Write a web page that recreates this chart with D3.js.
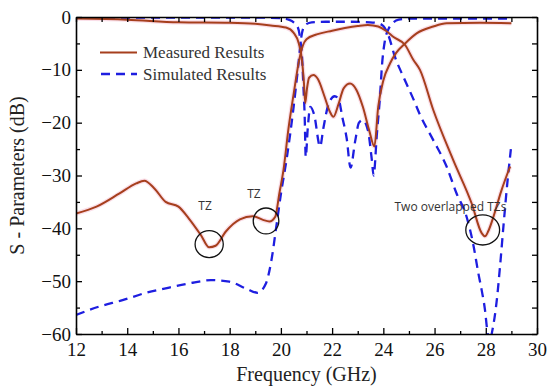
<!DOCTYPE html>
<html><head><meta charset="utf-8">
<script src="https://cdn.jsdelivr.net/npm/d3@7/dist/d3.min.js"></script>
<style>
body{margin:0;background:#fff;}
svg{display:block;}
</style></head>
<body><svg id="chart" width="550" height="391"></svg>
<script>
// ---- Data (frequency GHz, dB) ----
const measS21F = [12,12.8,13.7,14.35,14.67,15.05,15.5,16.0,16.4,16.88,17.2,17.45,17.85,18.4,18.9,19.3,19.55,19.78,19.94,20.1,20.3,20.5,20.7,20.85,21.0,21.4,22.0,22.5,23.0,23.4,23.8,24.1,24.4,24.85,25.17,25.43,25.95,26.73,27.45,27.84,27.97,28.1,28.3,28.6,28.95];
const measS21 = [-37.2,-35.9,-33.4,-31.5,-31.0,-32.4,-35.0,-35.9,-38.1,-41.3,-43.6,-43.3,-40.6,-38.3,-37.7,-38.4,-38.7,-37.8,-33.4,-29,-21,-14.5,-8.5,-5.5,-4.2,-3.3,-2.6,-2.1,-1.7,-1.5,-1.8,-2.6,-3.8,-5.3,-8.1,-10.0,-17.6,-27.1,-35.3,-40.9,-41.5,-40.5,-37.8,-33.0,-28.3];

const measS11F = [12,14,16,18,19,19.6,20.2,20.5,20.7,20.82,20.9,20.95,21.02,21.1,21.27,21.45,21.7,21.9,22.05,22.25,22.45,22.7,22.95,23.2,23.45,23.65,23.8,24.0,24.26,24.5,24.85,25.3,25.95,26.47,27.77,29.0];
const measS11 = [-0.3,-0.5,-1.0,-1.1,-1.3,-1.6,-2.0,-3.0,-5.0,-8.0,-12.5,-16.3,-13.5,-11.5,-11.0,-11.8,-15.0,-17.8,-18.9,-16.5,-13.5,-12.6,-13.8,-17.0,-21.5,-24.5,-17.0,-12.0,-8.8,-6.8,-5.0,-3.1,-1.8,-1.2,-1.1,-1.2];

const simS21F = [12,12.91,13.82,14.73,15.64,16.56,17.27,17.99,18.64,19.09,19.42,19.61,19.84,20.0,20.23,20.49,20.68,20.81,20.95,21.2,21.75,22.7,23.48,23.8,24.0,24.2,24.45,24.78,25.17,25.43,25.95,26.47,26.86,27.25,27.51,27.71,27.84,27.97,28.05,28.15,28.25,28.43,28.56,28.7,28.85,28.98];
const simS21 = [-56.4,-54.8,-53.6,-52.2,-51.2,-50.3,-49.8,-50.1,-51.4,-52.2,-50.4,-46.6,-39,-33.5,-26.7,-17.3,-9.1,-3.4,-1.5,-1.0,-0.9,-0.9,-1.0,-1.2,-1.7,-3.5,-7.5,-11.3,-15.5,-18.5,-23.3,-28.3,-33.4,-37.8,-43,-48.5,-51.7,-55.5,-59,-61.5,-59.5,-53.6,-47,-39,-31,-25];

const simS11F = [12,16,19,20,20.3,20.5,20.65,20.75,20.83,20.88,20.93,20.97,21.05,21.15,21.3,21.53,21.66,21.86,22.1,22.25,22.4,22.57,22.72,22.9,23.05,23.2,23.4,23.55,23.62,23.75,23.87,23.95,24.06,24.2,24.4,24.6,25,27,29];
const simS11 = [-0.1,-0.1,-0.1,-0.2,-0.5,-1.0,-1.8,-4,-8,-13,-19,-26.5,-21,-17,-18.5,-24.5,-21,-16.5,-15,-15.5,-19,-23,-28.5,-23.5,-20,-19.5,-21.5,-27,-30,-22,-15,-9,-4.5,-2.3,-1.0,-0.5,-0.3,-0.3,-0.3];

const xTicks = [12,14,16,18,20,22,24,26,28,30];
const yTicks = [-60,-50,-40,-30,-20,-10,0];
const legendLabels = ["Measured Results","Simulated Results"];
const annotations = [
  {text:"TZ", f:17.04, db:-36.6, cf:17.2, cdb:-43.0, rf:0.55, rdb:2.55},
  {text:"TZ", f:18.95, db:-34.3, cf:19.42, cdb:-38.6, rf:0.5, rdb:2.45},
  {text:"Two overlapped TZs", f:26.62, db:-36.8, cf:27.88, cdb:-40.3, rf:0.66, rdb:2.85}
];

// ---- Layout ----
const W=550,H=391, m={l:76,t:17,r:13,b:57};
const svg=d3.select("#chart");
const x=d3.scaleLinear().domain([12,30]).range([m.l,W-m.r]);
const y=d3.scaleLinear().domain([-60,0]).range([H-m.b,m.t]);
const brown="#a63f1d", blue="#1e1ee0";

svg.append("defs").append("clipPath").attr("id","clip")
  .append("rect").attr("x",m.l).attr("y",m.t).attr("width",x(30)-m.l).attr("height",y(-60)-m.t);

const line=d3.line().curve(d3.curveMonotoneX);
function pts(F,V){return F.map((f,i)=>[x(f),y(V[i])]);}

const g=svg.append("g").attr("clip-path","url(#clip)");
[[measS21F,measS21],[measS11F,measS11]].forEach(([F,V])=>{
  g.append("path").attr("d",line(pts(F,V))).attr("fill","none").attr("stroke","#f7c8d8").attr("stroke-width",4.5).attr("opacity",0.6);
});
[[simS21F,simS21],[simS11F,simS11]].forEach(([F,V])=>{
  g.append("path").attr("d",line(pts(F,V))).attr("fill","none").attr("stroke",blue).attr("stroke-width",2.3).attr("stroke-dasharray","9,6");
});
[[measS21F,measS21],[measS11F,measS11]].forEach(([F,V])=>{
  g.append("path").attr("d",line(pts(F,V))).attr("fill","none").attr("stroke",brown).attr("stroke-width",2);
});

// ---- Axes ----
const font='"Liberation Serif","Times New Roman",serif';
const minorX=d3.range(12,30.01,1), minorY=d3.range(-60,0.01,5);
function styleAxis(sel){sel.attr("font-family",null).attr("font-size",null);
  sel.selectAll("path.domain").attr("stroke","#000").attr("stroke-width",1.6);
  sel.selectAll(".tick line").attr("stroke","#000").attr("stroke-width",1.3);
  sel.selectAll("text").style("font-family",font).style("font-size","19px").attr("fill","#111");}

const xb=svg.append("g").attr("transform",`translate(0,${y(-60)})`)
  .call(d3.axisBottom(x).tickValues(xTicks).tickSizeInner(-6).tickSizeOuter(0).tickPadding(9).tickFormat(d3.format("d")));
styleAxis(xb);
svg.append("g").attr("transform",`translate(0,${y(-60)})`)
  .call(d3.axisBottom(x).tickValues(minorX.filter(v=>v%2)).tickSize(-3).tickFormat("")).call(s=>{s.select(".domain").remove();styleAxis(s);});
const xt=svg.append("g").attr("transform",`translate(0,${y(0)})`)
  .call(d3.axisTop(x).tickValues(minorX).tickSizeInner(-5).tickSizeOuter(0).tickFormat(""));
styleAxis(xt);
const yl=svg.append("g").attr("transform",`translate(${x(12)},0)`)
  .call(d3.axisLeft(y).tickValues(yTicks).tickSizeInner(-6).tickSizeOuter(0).tickPadding(5).tickFormat(d3.format("d")));
styleAxis(yl);
svg.append("g").attr("transform",`translate(${x(12)},0)`)
  .call(d3.axisLeft(y).tickValues(minorY.filter(v=>v%10)).tickSize(-4).tickFormat("")).call(s=>{s.select(".domain").remove();styleAxis(s);});
const yr=svg.append("g").attr("transform",`translate(${x(30)},0)`)
  .call(d3.axisRight(y).tickValues(minorY).tickSizeInner(-5).tickSizeOuter(0).tickFormat(""));
styleAxis(yr);

// titles
svg.append("text").attr("x",(x(12)+x(30))/2).attr("y",381).attr("text-anchor","middle")
  .style("font-family",font).style("font-size","20px").attr("fill","#222").text("Frequency (GHz)");
svg.append("text").attr("transform",`translate(24,${(y(0)+y(-60))/2}) rotate(-90)`).attr("text-anchor","middle")
  .style("font-family",font).style("font-size","20px").attr("fill","#222").text("S - Parameters (dB)");

// legend
const lg=svg.append("g");
lg.append("line").attr("x1",100).attr("x2",137).attr("y1",52.5).attr("y2",52.5).attr("stroke",brown).attr("stroke-width",2);
lg.append("line").attr("x1",100).attr("x2",137).attr("y1",74).attr("y2",74).attr("stroke",blue).attr("stroke-width",2.3).attr("stroke-dasharray","9,6").attr("stroke-dashoffset",-1);
legendLabels.forEach((t,i)=>lg.append("text").attr("x",143).attr("y",58+i*21.5)
  .style("font-family",font).style("font-size","17px").attr("fill","#333").text(t));

// annotations
const sans="'Open Sans','Noto Sans',sans-serif";
annotations.forEach(a=>{
  svg.append("text").attr("x",x(a.f)).attr("y",y(a.db)).attr("text-anchor","middle")
    .style("font-family",sans).style("font-size","12px").attr("fill","#333").text(a.text);
  svg.append("ellipse").attr("cx",x(a.cf)).attr("cy",y(a.cdb))
    .attr("rx",x(12+a.rf)-x(12)).attr("ry",y(-a.rdb)-y(0))
    .attr("fill","none").attr("stroke","#111").attr("stroke-width",1.3);
});
</script></body></html>
